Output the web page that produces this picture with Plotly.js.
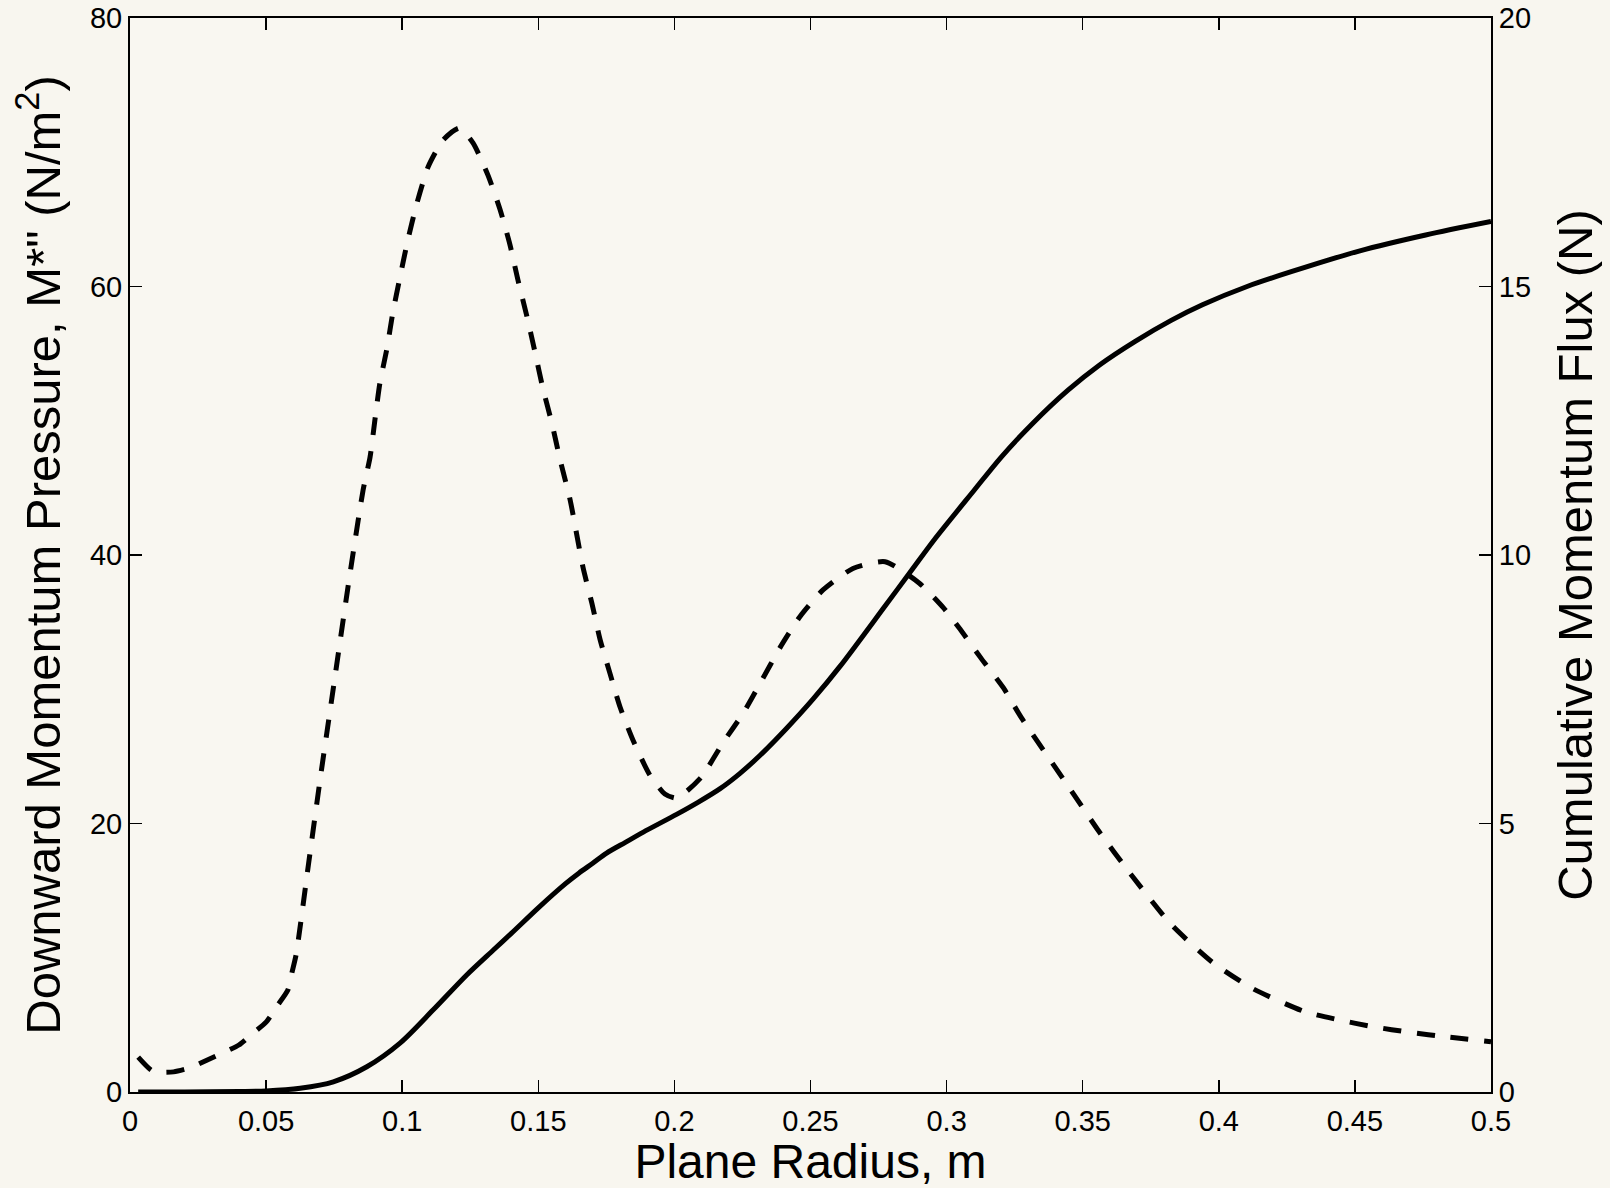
<!DOCTYPE html>
<html>
<head>
<meta charset="utf-8">
<script src="https://cdn.plot.ly/plotly-3.0.1.min.js"></script>
<style>
  html, body { margin: 0; padding: 0; background: #f8f6ef; }
  #chart { width: 1610px; height: 1188px; }
</style>
</head>
<body>
<div id="chart"></div>
<script>
// Plane radius (m) for the downward momentum pressure curve (dashed, left axis)
const pressureRadius = [0.003, 0.008, 0.012, 0.016, 0.022, 0.028, 0.034, 0.040, 0.045, 0.050,
  0.054, 0.058, 0.0595, 0.061, 0.0656, 0.070, 0.075, 0.080, 0.0856, 0.0882,
  0.090, 0.0918, 0.0944, 0.0966, 0.0992, 0.1021, 0.1054, 0.1095, 0.115, 0.121,
  0.126, 0.1315, 0.136, 0.1396, 0.1425, 0.1459, 0.1488, 0.1517, 0.155, 0.158,
  0.1617, 0.1664, 0.1697, 0.1727, 0.1763, 0.180, 0.1848, 0.191, 0.1965, 0.2005,
  0.2045, 0.2101, 0.2178, 0.2252, 0.2322, 0.2388, 0.2461, 0.2546, 0.2656, 0.2774,
  0.290, 0.2987, 0.3045, 0.3127, 0.3209, 0.3274, 0.3446, 0.356, 0.367, 0.3824,
  0.3974, 0.4125, 0.4314, 0.4435, 0.457, 0.470, 0.4838, 0.500];
// Downward momentum pressure M*'' (N/m^2)
const pressureValues = [2.6, 1.6, 1.47, 1.5, 1.8, 2.35, 2.9, 3.5, 4.35, 5.2,
  6.4, 7.6, 8.9, 10.2, 17.0, 23.5, 30.5, 37.5, 44.8, 47.3,
  50.1, 52.8, 55.4, 58.1, 60.7, 63.5, 66.2, 68.9, 70.9, 71.8,
  70.7, 68.3, 65.7, 63.1, 60.5, 57.7, 55.1, 52.4, 49.8, 47.1,
  44.1, 39.1, 36.4, 33.7, 31.2, 28.7, 26.2, 23.6, 22.2, 21.9,
  22.4, 23.5, 26.0, 28.2, 30.7, 33.1, 35.4, 37.4, 39.0, 39.5,
  37.9, 36.1, 34.6, 32.3, 30.1, 27.9, 22.8, 19.4, 16.4, 12.5,
  9.7, 7.7, 6.0, 5.4, 4.85, 4.45, 4.1, 3.75];

// Plane radius (m) for the cumulative momentum flux curve (solid, right axis)
const fluxRadius = [0.003, 0.02, 0.04, 0.05, 0.0625, 0.0747, 0.087, 0.0992, 0.1114, 0.1237,
  0.1334, 0.14, 0.15, 0.16, 0.165, 0.17, 0.1751, 0.182, 0.1886, 0.2008,
  0.2085, 0.2168, 0.224, 0.2315, 0.241, 0.251, 0.2609, 0.2774, 0.2872, 0.2954,
  0.3102, 0.32, 0.3316, 0.3446, 0.3562, 0.3693, 0.3825, 0.394, 0.4104, 0.4269,
  0.4515, 0.476, 0.500];
// Cumulative momentum flux (N)
const fluxValues = [0, 0, 0.01, 0.02, 0.07, 0.19, 0.47, 0.91, 1.53, 2.18,
  2.64, 2.95, 3.43, 3.88, 4.08, 4.26, 4.45, 4.65, 4.84, 5.17,
  5.39, 5.65, 5.93, 6.27, 6.76, 7.32, 7.93, 9.05, 9.72, 10.28,
  11.21, 11.82, 12.45, 13.07, 13.54, 13.98, 14.37, 14.66, 15.0, 15.28,
  15.66, 15.96, 16.21];

// Tick labels
const xTickVals = [0, 0.05, 0.1, 0.15, 0.2, 0.25, 0.3, 0.35, 0.4, 0.45, 0.5];
const xTickText = ['0', '0.05', '0.1', '0.15', '0.2', '0.25', '0.3', '0.35', '0.4', '0.45', '0.5'];
const leftTickVals = [0, 20, 40, 60, 80];
const leftTickText = ['0', '20', '40', '60', '80'];
const rightTickVals = [0, 5, 10, 15, 20];
const rightTickText = ['0', '5', '10', '15', '20'];

const FONT = 'Liberation Sans, Arial, Helvetica, sans-serif';

const traces = [
  {
    x: pressureRadius, y: pressureValues, type: 'scatter', mode: 'lines',
    name: 'Downward Momentum Pressure',
    line: { color: '#000000', width: 5, dash: '18px,16px', shape: 'spline', smoothing: 0.6 },
    yaxis: 'y', showlegend: false
  },
  {
    x: fluxRadius, y: fluxValues, type: 'scatter', mode: 'lines',
    name: 'Cumulative Momentum Flux',
    line: { color: '#000000', width: 5, shape: 'spline', smoothing: 0.8 },
    yaxis: 'y2', showlegend: false
  }
];

const axisCommon = {
  showgrid: false, zeroline: false, showline: true,
  linecolor: '#000000', linewidth: 2,
  ticks: 'inside', ticklen: 12, tickwidth: 1.5, tickcolor: '#000000',
  tickfont: { family: FONT, size: 29, color: '#000000' }
};

const layout = {
  width: 1610, height: 1188,
  paper_bgcolor: '#f8f6ef', plot_bgcolor: '#f9f7f1',
  margin: { l: 130, r: 119, t: 18, b: 96, pad: 0 },
  showlegend: false,
  xaxis: Object.assign({}, axisCommon, {
    range: [0, 0.5], tickmode: 'array', tickvals: xTickVals, ticktext: xTickText,
    mirror: 'ticks', ticklabelstandoff: 2,
    title: { text: 'Plane Radius, m', font: { family: FONT, size: 48, color: '#000000' }, standoff: 7 }
  }),
  yaxis: Object.assign({}, axisCommon, {
    range: [0, 80], tickmode: 'array', tickvals: leftTickVals, ticktext: leftTickText,
    title: { text: 'Downward Momentum Pressure, M*" (N/m<sup>2</sup>)', font: { family: FONT, size: 49, color: '#000000' }, standoff: 14 }
  }),
  yaxis2: Object.assign({}, axisCommon, {
    range: [0, 20], tickmode: 'array', tickvals: rightTickVals, ticktext: rightTickText,
    overlaying: 'y', side: 'right',
    title: { text: 'Cumulative Momentum Flux (N)', font: { family: FONT, size: 49, color: '#000000' }, standoff: 28 }
  })
};

Plotly.newPlot('chart', traces, layout, { staticPlot: true, displayModeBar: false });
</script>
</body>
</html>
